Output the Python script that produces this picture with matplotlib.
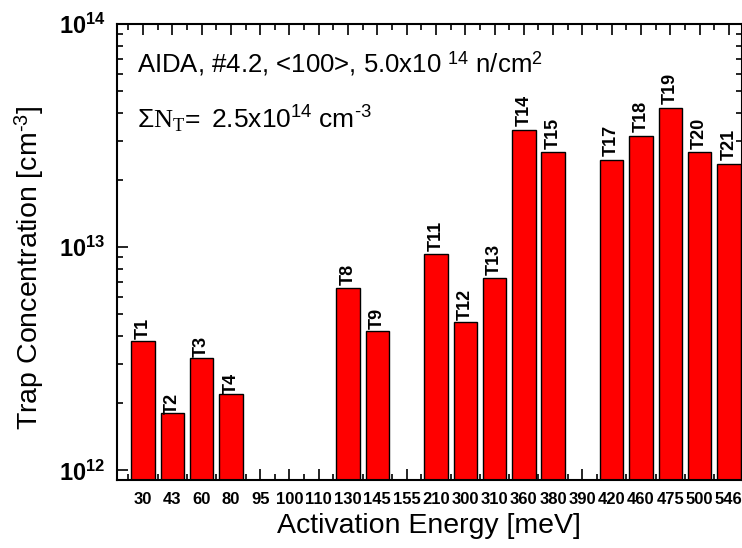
import numpy as np
import matplotlib
matplotlib.use("Agg")
import matplotlib.pyplot as plt
from matplotlib.ticker import FixedLocator, FuncFormatter, LogLocator, NullFormatter

plt.rcParams['font.family'] = ['Liberation Sans', 'DejaVu Sans']
plt.rcParams['mathtext.fontset'] = 'custom'
plt.rcParams['mathtext.rm'] = 'Liberation Sans'
plt.rcParams['mathtext.bf'] = 'Liberation Sans:bold'
plt.rcParams['mathtext.it'] = 'Liberation Serif'

energies = ['30', '43', '60', '80', '95', '100', '110', '130', '145', '155', '210',
            '300', '310', '360', '380', '390', '420', '460', '475', '500', '546']
trap_labels = ['T%d' % i for i in range(1, 22)]
concentration = [3.7e12, 1.71e12, 3.1e12, 2.1e12, np.nan, np.nan, np.nan, 6.45e12, 4.1e12,
                 np.nan, 9.2e12, 4.5e12, 7.2e12, 3.34e13, 2.65e13, np.nan, 2.45e13,
                 3.14e13, 4.2e13, 2.65e13, 2.36e13]

fig = plt.figure(figsize=(7.42, 5.48), dpi=100)
ax = fig.add_axes([116.7 / 742, 1 - 480 / 548, 1 - 116.7 / 742, (480 - 24) / 548])

x = np.arange(len(energies))
vals = np.array(concentration, dtype=float)
mask = ~np.isnan(vals)
ax.set_yscale('log')
ax.bar(x[mask], vals[mask], width=0.8, bottom=1e11, color='#ff0000',
       edgecolor='black', linewidth=1.0, zorder=2)
for xi, v, lab in zip(x[mask], vals[mask], np.array(trap_labels)[mask]):
    ax.annotate(lab, (xi, v), xytext=(0, 3), textcoords='offset points',
                rotation=90, ha='center', va='bottom', fontsize=13, fontweight='bold')

ax.set_xlim(-0.9, 20.45)
ax.set_ylim(0.905e12, 1e14)

ax.xaxis.set_major_locator(FixedLocator(x))
ax.xaxis.set_minor_locator(FixedLocator(np.arange(-0.5, len(energies), 1.0)))
ax.set_xticklabels(energies, fontsize=12, fontweight='bold')

ax.yaxis.set_major_locator(LogLocator(base=10, numticks=10))
ax.yaxis.set_minor_locator(LogLocator(base=10, subs=np.arange(2, 10), numticks=10))
ax.yaxis.set_minor_formatter(NullFormatter())
ax.yaxis.set_major_formatter(FuncFormatter(
    lambda v, p: r'$\mathbf{10^{%d}}$' % int(round(np.log10(v)))))

ax.tick_params(which='both', direction='in', top=True, right=True, width=1.2)
ax.tick_params(which='major', length=8)
ax.tick_params(which='minor', length=4)
ax.tick_params(axis='x', which='major', pad=9)
ax.tick_params(axis='y', which='major', pad=8, labelsize=17)
for s in ax.spines.values():
    s.set_linewidth(1.5)

ax.set_xlabel('Activation Energy [meV]', fontsize=20.5, labelpad=4)
ax.set_ylabel('Trap Concentration [cm$^{\u20103}$]', fontsize=20.5)
ax.yaxis.set_label_coords(-0.113, 0.465)

ax.text(0.033, (480 - 72) / 456, r'AIDA, #4.2, <100>, 5.0x10 $^{14}$ n/cm$^{2}$',
        transform=ax.transAxes, fontsize=18.5, ha='left', va='baseline')
ax.text(0.033, (480 - 128) / 456,
        '$\\mathit{\u03a3N}_{\\mathit{T}}\\!\\mathrm{=\\ 2.5x10^{14}\\ cm^{\u20103}}$',
        transform=ax.transAxes, fontsize=19, ha='left', va='baseline')

fig.savefig('out.png', dpi=100)
